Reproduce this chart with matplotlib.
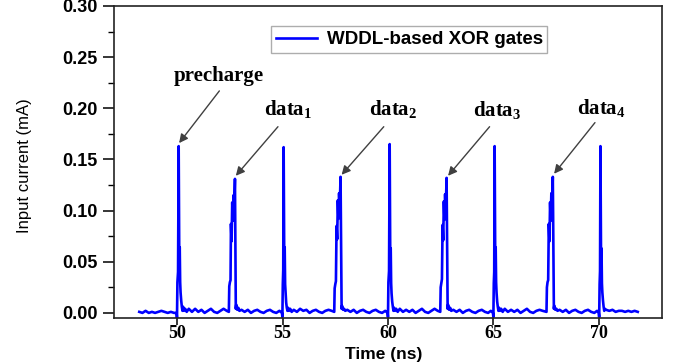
import matplotlib
matplotlib.use("Agg")
import matplotlib.pyplot as plt
from matplotlib.ticker import MultipleLocator

# Input current trace (time in ns, current in mA)
time_ns = [
    # baseline
    48.20, 48.35, 48.50, 48.65, 48.80, 48.95, 49.10, 49.25, 49.40, 49.55, 49.70, 49.85, 49.97,
    # precharge
    49.99, 50.01, 50.04, 50.07, 50.10, 50.12, 50.14, 50.16, 50.19, 50.22, 50.25, 50.28,
    # baseline
    50.32, 50.38, 50.45, 50.55, 50.70, 50.85, 51.00, 51.15, 51.30, 51.45, 51.60, 51.75, 51.90, 52.05, 52.20, 52.35, 52.45,
    # data1
    52.47, 52.50, 52.53, 52.55, 52.58, 52.61, 52.64, 52.67, 52.70, 52.74, 52.76, 52.78, 52.80,
    # baseline
    52.85, 52.90, 52.95, 53.05, 53.20, 53.35, 53.50, 53.65, 53.80, 53.95, 54.10, 54.25, 54.40, 54.55, 54.70, 54.85, 54.97,
    # precharge
    54.99, 55.01, 55.03, 55.05, 55.08, 55.10, 55.12, 55.14, 55.17, 55.20, 55.23, 55.26,
    # baseline
    55.30, 55.36, 55.43, 55.53, 55.68, 55.83, 55.98, 56.13, 56.28, 56.43, 56.58, 56.73, 56.88, 57.03, 57.18, 57.33, 57.45,
    # data2
    57.47, 57.50, 57.53, 57.56, 57.59, 57.62, 57.65, 57.68, 57.71, 57.75, 57.78, 57.80, 57.82,
    # baseline
    57.87, 57.92, 57.97, 58.07, 58.22, 58.37, 58.52, 58.67, 58.82, 58.97, 59.12, 59.27, 59.42, 59.57, 59.72, 59.87, 59.98,
    # precharge
    60.00, 60.02, 60.05, 60.08, 60.11, 60.13, 60.15, 60.17, 60.20, 60.23, 60.26, 60.29,
    # baseline
    60.33, 60.39, 60.46, 60.56, 60.71, 60.86, 61.01, 61.16, 61.31, 61.46, 61.61, 61.76, 61.91, 62.06, 62.21, 62.36, 62.48,
    # data3
    62.50, 62.53, 62.56, 62.59, 62.62, 62.65, 62.68, 62.71, 62.74, 62.78, 62.81, 62.83, 62.85,
    # baseline
    62.90, 62.95, 63.00, 63.10, 63.25, 63.40, 63.55, 63.70, 63.85, 64.00, 64.15, 64.30, 64.45, 64.60, 64.75, 64.88, 64.98,
    # precharge
    65.00, 65.02, 65.04, 65.06, 65.09, 65.11, 65.13, 65.15, 65.18, 65.21, 65.24, 65.27,
    # baseline
    65.31, 65.37, 65.44, 65.54, 65.69, 65.84, 65.99, 66.14, 66.29, 66.44, 66.59, 66.74, 66.89, 67.04, 67.19, 67.34, 67.52,
    # data4
    67.54, 67.57, 67.60, 67.63, 67.66, 67.69, 67.72, 67.75, 67.78, 67.82, 67.85, 67.87, 67.89,
    # baseline
    67.94, 67.99, 68.04, 68.14, 68.29, 68.44, 68.59, 68.74, 68.89, 69.04, 69.19, 69.34, 69.49, 69.64, 69.79, 69.92, 70.00,
    # precharge
    70.02, 70.04, 70.06, 70.08, 70.11, 70.13, 70.15, 70.17, 70.20, 70.23, 70.26, 70.29,
    # tail
    70.35, 70.50, 70.65, 70.80, 70.95, 71.10, 71.25, 71.40, 71.55, 71.70, 71.85,
]

current_ma = [
    0.001, 0.000, 0.002, 0.000, 0.001, 0.000, 0.001, 0.002, 0.001, 0.000, 0.001, 0.000, 0.000,
    -0.005, 0.030, 0.040, 0.163, 0.045, 0.064, 0.030, 0.020, 0.012, 0.006, 0.002, 0.006,
    0.002, 0.004, 0.001, 0.004, 0.001, 0.004, 0.001, 0.003, 0.000, 0.002, 0.004, 0.001, 0.000, 0.002, 0.004, 0.002, 0.001,
    0.026, 0.030, 0.032, 0.087, 0.070, 0.108, 0.090, 0.115, 0.100, 0.131, 0.060, 0.004, 0.008,
    0.003, 0.005, 0.002, 0.003, 0.001, 0.003, 0.000, 0.002, 0.003, 0.001, 0.000, 0.002, 0.003, 0.001, 0.000, 0.002, 0.000,
    -0.004, 0.028, 0.042, 0.162, 0.046, 0.064, 0.028, 0.021, 0.010, 0.005, 0.002, 0.005,
    0.002, 0.004, 0.001, 0.003, 0.001, 0.004, 0.002, 0.003, 0.000, 0.002, 0.003, 0.001, 0.000, 0.002, 0.003, 0.002, 0.001,
    0.024, 0.028, 0.031, 0.085, 0.072, 0.110, 0.092, 0.117, 0.104, 0.133, 0.058, 0.004, 0.007,
    0.003, 0.004, 0.002, 0.003, 0.001, 0.003, 0.000, 0.002, 0.003, 0.001, 0.000, 0.002, 0.003, 0.001, 0.000, 0.002, 0.000,
    -0.004, 0.030, 0.041, 0.165, 0.044, 0.063, 0.029, 0.019, 0.011, 0.006, 0.002, 0.005,
    0.002, 0.004, 0.001, 0.004, 0.001, 0.003, 0.001, 0.003, 0.000, 0.002, 0.004, 0.001, 0.000, 0.002, 0.004, 0.002, 0.001,
    0.025, 0.029, 0.033, 0.086, 0.071, 0.109, 0.091, 0.116, 0.101, 0.132, 0.059, 0.004, 0.008,
    0.003, 0.005, 0.002, 0.003, 0.001, 0.003, 0.000, 0.002, 0.003, 0.001, 0.000, 0.002, 0.003, 0.001, 0.000, 0.002, 0.000,
    -0.004, 0.029, 0.040, 0.163, 0.045, 0.064, 0.030, 0.020, 0.011, 0.006, 0.002, 0.005,
    0.002, 0.004, 0.001, 0.004, 0.001, 0.003, 0.001, 0.003, 0.000, 0.002, 0.004, 0.001, 0.000, 0.002, 0.003, 0.002, 0.001,
    0.025, 0.030, 0.032, 0.087, 0.070, 0.108, 0.090, 0.117, 0.102, 0.133, 0.058, 0.004, 0.007,
    0.003, 0.004, 0.002, 0.003, 0.001, 0.003, 0.000, 0.002, 0.003, 0.001, 0.000, 0.002, 0.003, 0.001, 0.000, 0.002, 0.000,
    -0.004, 0.028, 0.041, 0.163, 0.046, 0.063, 0.029, 0.020, 0.012, 0.006, 0.002, 0.004,
    0.003, 0.002, 0.003, 0.001, 0.002, 0.002, 0.001, 0.002, 0.001, 0.002, 0.001,
]

# annotations: label, arrow head (t, i), arrow tail (t, i), text position (t, i)
labels = ["precharge", "data$_1$", "data$_2$", "data$_3$", "data$_4$"]
head_t = [50.09, 52.78, 57.80, 62.85, 67.88]
head_i = [0.166, 0.134, 0.135, 0.134, 0.136]
tail_t = [52.00, 54.78, 59.80, 64.82, 69.82]
tail_i = [0.217, 0.182, 0.182, 0.182, 0.186]
text_t = [51.95, 55.25, 60.25, 65.20, 70.10]
text_i = [0.232, 0.199, 0.199, 0.198, 0.200]

series_name = "WDDL-based XOR gates"

plt.rcParams["mathtext.fontset"] = "custom"
plt.rcParams["mathtext.rm"] = "Liberation Serif:bold"
plt.rcParams["mathtext.it"] = "Liberation Serif:bold"
plt.rcParams["mathtext.bf"] = "Liberation Serif:bold"

fig = plt.figure(figsize=(6.78, 3.62), dpi=100)
ax = fig.add_axes([0.1681, 1 - 318 / 362, 0.8083, 312 / 362])

ax.plot(time_ns, current_ma, color="#0000ff", lw=1.9, label=series_name)

ax.set_xlim(47, 73)
ax.set_ylim(-0.005, 0.30)
ax.set_xticks([50, 55, 60, 65, 70])
ax.yaxis.set_major_locator(MultipleLocator(0.05))
ax.yaxis.set_minor_locator(MultipleLocator(0.025))
ax.set_yticklabels([f"{v:.2f}" for v in ax.get_yticks()])

for s in ax.spines.values():
    s.set_linewidth(1.2)
    s.set_color("#222222")
ax.tick_params(axis="x", direction="out", length=5, width=1.1, pad=0)
ax.tick_params(axis="y", which="major", direction="out", length=8, width=1.1, pad=4)
ax.tick_params(axis="y", which="minor", direction="out", length=4, width=1.0)

for lab in ax.get_xticklabels():
    lab.set_fontfamily("Liberation Serif")
    lab.set_fontweight("bold")
    lab.set_fontsize(13)
for lab in ax.get_yticklabels():
    lab.set_fontfamily("Liberation Sans")
    lab.set_fontweight("bold")
    lab.set_fontsize(13)

fig.text(383.5 / 678, 1 - 358.7 / 362, "Time (ns)", ha="center", va="baseline",
         fontfamily="Liberation Sans", fontweight="bold", fontsize=12.5)
fig.text(25 / 678, 1 - 166 / 362, "Input current (mA)", ha="center", va="center",
         rotation=90, fontfamily="Liberation Sans", fontsize=12)

for k in range(len(labels)):
    ax.annotate("", xy=(head_t[k], head_i[k]), xytext=(tail_t[k], tail_i[k]),
                arrowprops=dict(arrowstyle="-|>", color="#404040", lw=1.0,
                                mutation_scale=13, shrinkA=0, shrinkB=0))
    ax.text(text_t[k], text_i[k], labels[k], ha="center", va="center",
            fontfamily="Liberation Serif", fontweight="bold", fontsize=15)

leg = ax.legend(loc="upper left", bbox_to_anchor=(0.27, 0.965), fancybox=False,
                frameon=True, handlelength=2.2, borderpad=0.25, handletextpad=0.5,
                prop={"family": "Liberation Sans", "weight": "bold", "size": 13.5})
leg.get_frame().set_edgecolor("#999999")
leg.get_frame().set_linewidth(1.0)

fig.savefig("out.png", dpi=100)
